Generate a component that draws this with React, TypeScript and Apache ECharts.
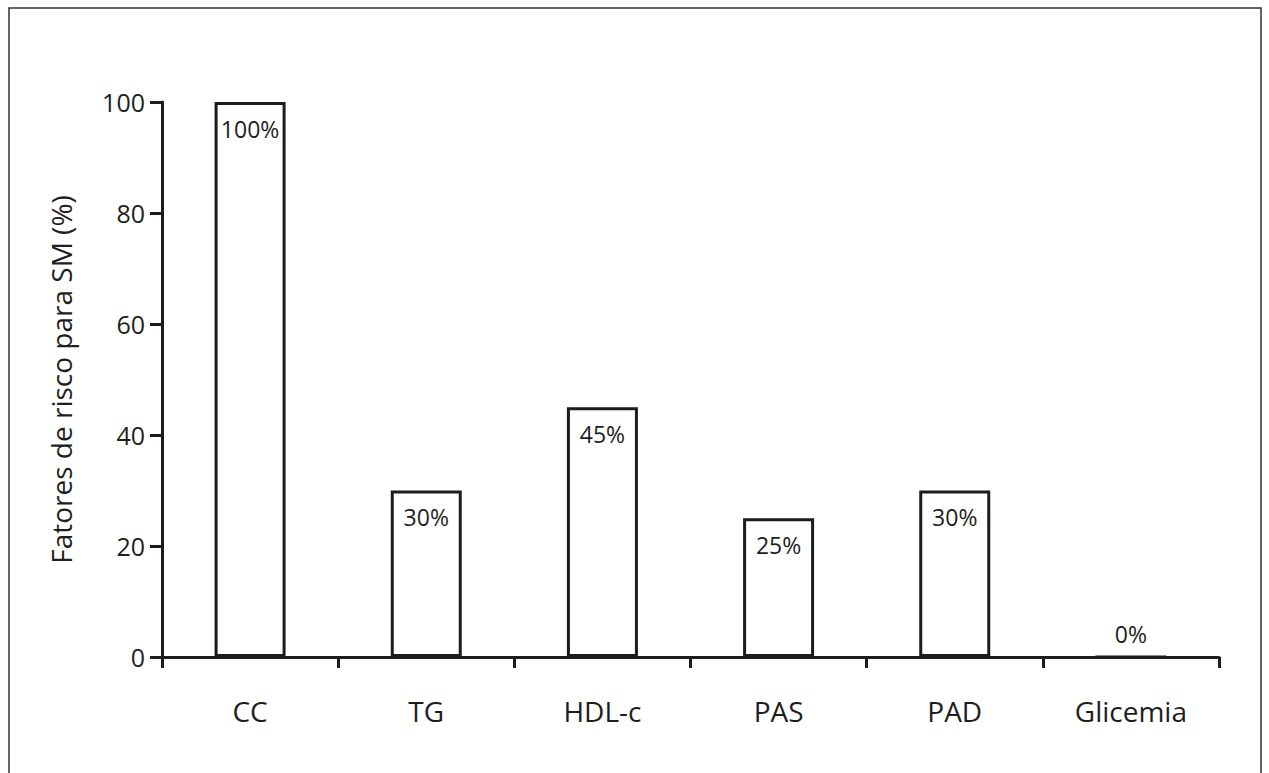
import React, { useEffect, useRef } from "react";
import * as echarts from "echarts";

const categories = ["CC", "TG", "HDL-c", "PAS", "PAD", "Glicemia"];
const values = [100, 30, 45, 25, 30, 0];
const yTicks = [0, 20, 40, 60, 80, 100];
const yAxisName = "Fatores de risco para SM (%)";

const FONT = "'Open Sans', 'Noto Sans', sans-serif";
const INK = "#1c1c1c";
const TEXT = "#1e1e1e";

export default function App() {
  const ref = useRef<HTMLDivElement>(null);
  useEffect(() => {
    document.body.style.margin = "0";
    const chart = echarts.init(ref.current!, null, { renderer: "svg" });
    chart.setOption({
      animation: false,
      backgroundColor: "#ffffff",
      graphic: [
        {
          type: "rect",
          shape: { x: 9, y: 8, width: 1252, height: 800 },
          style: { fill: "none", stroke: "#333", lineWidth: 1.5 },
          silent: true,
        },
      ],
      grid: { left: 162, right: 50, top: 102, bottom: 116, containLabel: false },
      xAxis: {
        type: "category",
        data: categories,
        boundaryGap: true,
        axisLine: { show: true, lineStyle: { color: INK, width: 3 } },
        axisTick: { show: true, length: 11, lineStyle: { color: INK, width: 3 } },
        axisLabel: { color: TEXT, fontFamily: FONT, fontSize: 28, margin: 40 },
        splitLine: { show: false },
      },
      yAxis: {
        type: "value",
        min: yTicks[0],
        max: yTicks[yTicks.length - 1],
        interval: 20,
        name: yAxisName,
        nameLocation: "middle",
        nameRotate: 90,
        nameGap: 87,
        nameTextStyle: { color: TEXT, fontFamily: FONT, fontSize: 28 },
        axisLine: { show: true, lineStyle: { color: INK, width: 3 } },
        axisTick: { show: true, length: 12, lineStyle: { color: INK, width: 3 } },
        axisLabel: { color: TEXT, fontFamily: FONT, fontSize: 25, margin: 17 },
        splitLine: { show: false },
      },
      series: [
        {
          type: "bar",
          barWidth: 71,
          data: values.map((v) => ({
            value: v,
            label:
              v === 0
                ? { position: "top", distance: 10 }
                : { position: "insideTop", distance: 15 },
          })),
          itemStyle: { color: "#ffffff", borderColor: INK, borderWidth: 3 },
          label: {
            show: true,
            formatter: (p: any) => p.value + "%",
            color: TEXT,
            fontFamily: FONT,
            fontSize: 23,
          },
        },
      ],
    });
    return () => chart.dispose();
  }, []);
  return <div ref={ref} style={{ width: 1269, height: 773 }} />;
}
